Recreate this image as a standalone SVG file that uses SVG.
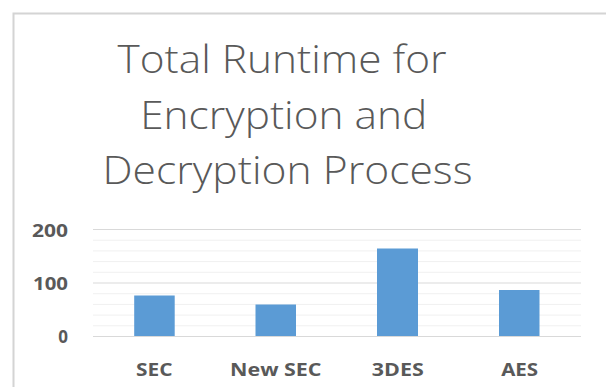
<svg xmlns="http://www.w3.org/2000/svg" width="606" height="387" viewBox="0 0 606 387">
  <style>
    .title { font-family: "Open Sans", "Liberation Sans", sans-serif; font-weight: 300; font-size: 39px; fill: #595959; text-anchor: middle; }
    .tick { font-family: "Open Sans", "Liberation Sans", sans-serif; font-weight: 700; font-size: 17px; fill: #595959; text-anchor: end; }
    .cat { font-family: "Open Sans", "Liberation Sans", sans-serif; font-weight: 700; font-size: 17px; fill: #595959; text-anchor: middle; }
    .major { stroke: #d9d9d9; stroke-width: 1; }
    .minor { stroke: #f0f0f0; stroke-width: 1; }
    .bar { fill: #5b9bd5; }
  </style>

  <rect width="606" height="387" fill="#ffffff"/>

  <!-- chart frame -->
  <g id="frame">
    <path d="M13.5 400 V13.5 H620" fill="none" stroke="#d4d4d4" stroke-width="2"/>
  </g>

  <!-- chart title -->
  <g id="title">
    <text class="title" x="282" y="72.5" textLength="329" lengthAdjust="spacingAndGlyphs">Total Runtime for</text>
    <text class="title" x="283.7" y="128.5" textLength="287" lengthAdjust="spacingAndGlyphs">Encryption and</text>
    <text class="title" x="287.5" y="184" textLength="370" lengthAdjust="spacingAndGlyphs">Decryption Process</text>
  </g>

  <!-- gridlines: major every 100, minor every 20 -->
  <g id="gridlines">
    <line class="minor" x1="93" x2="581" y1="240.2" y2="240.2"/>
    <line class="minor" x1="93" x2="581" y1="250.9" y2="250.9"/>
    <line class="minor" x1="93" x2="581" y1="261.6" y2="261.6"/>
    <line class="minor" x1="93" x2="581" y1="272.3" y2="272.3"/>
    <line class="minor" x1="93" x2="581" y1="293.7" y2="293.7"/>
    <line class="minor" x1="93" x2="581" y1="304.4" y2="304.4"/>
    <line class="minor" x1="93" x2="581" y1="315.1" y2="315.1"/>
    <line class="minor" x1="93" x2="581" y1="325.8" y2="325.8"/>
    <line class="major" x1="93" x2="581" y1="229.5" y2="229.5"/>
    <line class="major" x1="93" x2="581" y1="283" y2="283"/>
  </g>

  <!-- value axis labels -->
  <g id="value-axis">
    <text class="tick" x="68" y="236.5" textLength="36" lengthAdjust="spacingAndGlyphs">200</text>
    <text class="tick" x="68" y="290" textLength="35" lengthAdjust="spacingAndGlyphs">100</text>
    <text class="tick" x="68" y="343">0</text>
  </g>

  <!-- bars -->
  <g id="bars">
    <rect id="bar-sec" class="bar" x="134.2" y="295.5" width="40.5" height="41"/>
    <rect id="bar-new-sec" class="bar" x="255.5" y="304.5" width="40.5" height="32"/>
    <rect id="bar-3des" class="bar" x="377" y="248.5" width="41" height="88"/>
    <rect id="bar-aes" class="bar" x="499" y="290" width="40.5" height="46.5"/>
  </g>

  <!-- baseline -->
  <line class="major" x1="93" x2="581" y1="336.5" y2="336.5"/>

  <!-- category axis labels -->
  <g id="category-axis">
    <text class="cat" x="154.3" y="375.5" textLength="36.5" lengthAdjust="spacingAndGlyphs">SEC</text>
    <text class="cat" x="275.8" y="375.5" textLength="91.5" lengthAdjust="spacingAndGlyphs">New SEC</text>
    <text class="cat" x="397.8" y="375.5" textLength="52" lengthAdjust="spacingAndGlyphs">3DES</text>
    <text class="cat" x="519.7" y="375.5" textLength="37" lengthAdjust="spacingAndGlyphs">AES</text>
  </g>
</svg>
